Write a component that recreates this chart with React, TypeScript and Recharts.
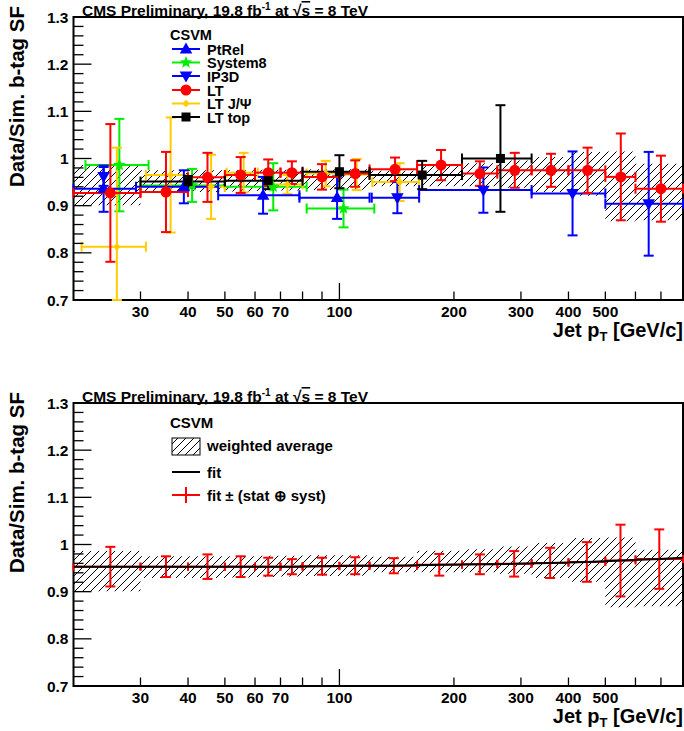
import React from 'react';
import { ComposedChart, Scatter, ErrorBar, XAxis, YAxis, Area, Line, ReferenceArea } from 'recharts';

const FONT = '"Liberation Sans", Arial, Helvetica, sans-serif';

// ---------- axes ----------
const X_TICKS = [30, 40, 50, 60, 70, 80, 90, 100, 200, 300, 400, 500, 600, 700];
const X_LABELS = [30, 40, 50, 60, 70, 100, 200, 300, 400, 500];
const Y_TICKS = [0.7, 0.72, 0.74, 0.76, 0.78, 0.8, 0.82, 0.84, 0.86, 0.88, 0.9, 0.92, 0.94, 0.96, 0.98, 1, 1.02, 1.04, 1.06, 1.08, 1.1, 1.12, 1.14, 1.16, 1.18, 1.2, 1.22, 1.24, 1.26, 1.28, 1.3];
const Y_MAJOR = [0.7, 0.8, 0.9, 1, 1.1, 1.2, 1.3];
const Y_LABELS = ['0.7', '0.8', '0.9', '1', '1.1', '1.2', '1.3'];

// ---------- weighted average band (bins) ----------
const binEdges = [20, 30, 40, 50, 60, 70, 80, 100, 120, 160, 210, 260, 320, 400, 500, 600, 800];
const bandLow = [0.901, 0.929, 0.929, 0.930, 0.931, 0.932, 0.933, 0.934, 0.941, 0.941, 0.941, 0.938, 0.929, 0.921, 0.867, 0.869];
const bandHigh = [0.986, 0.975, 0.975, 0.975, 0.976, 0.976, 0.977, 0.977, 0.974, 0.987, 0.990, 0.996, 1.003, 1.014, 1.015, 0.989];

// ---------- LT (red) ----------
const ltPt = [25, 35, 45, 55, 65, 75, 90, 110, 140, 185, 234, 289, 360, 449, 549, 700];
const ltSF = [0.927, 0.929, 0.960, 0.965, 0.970, 0.970, 0.961, 0.968, 0.977, 0.986, 0.968, 0.975, 0.975, 0.975, 0.961, 0.936];
const ltErr = [0.146, 0.085, 0.052, 0.038, 0.028, 0.024, 0.027, 0.028, 0.025, 0.032, 0.026, 0.037, 0.035, 0.048, 0.092, 0.070];

// ---------- PtRel (blue, up) ----------
const ptrelPt = [24, 39, 63, 98.6];
const ptrelLo = [20, 29.2, 48, 78.5];
const ptrelHi = [29.2, 48, 78.5, 120];
const ptrelSF = [0.936, 0.940, 0.922, 0.917];
const ptrelErr = [0.049, 0.035, 0.039, 0.045];

// ---------- System8 (green) ----------
const s8Pt = [26.4, 41, 67, 102.5];
const s8Lo = [21.5, 30, 50, 82];
const s8Hi = [31.5, 50, 82, 123.5];
const s8SF = [0.986, 0.943, 0.940, 0.894];
const s8Err = [0.098, 0.035, 0.050, 0.040];

// ---------- IP3D (blue, down) ----------
const ip3dPt = [24, 142, 239, 410, 650];
const ip3dLo = [24, 121.6, 162, 320, 500];
const ip3dHi = [24, 162, 320, 500, 800];
const ip3dSF = [0.962, 0.917, 0.933, 0.926, 0.904];
const ip3dErr = [0.020, 0.033, 0.048, 0.089, 0.110];

// ---------- LT J/psi (yellow) ----------
const jpsiPt = [26, 36, 46, 56, 73, 92, 111, 144];
const jpsiLo = [21, 31, 40, 50.5, 67, 82, 100, 122];
const jpsiHi = [31, 40, 50, 61, 80, 100, 120, 162];
const jpsiSF = [0.813, 0.965, 0.940, 0.970, 0.945, 0.968, 0.966, 0.950];
const jpsiErr = [0.210, 0.122, 0.068, 0.042, 0.020, 0.027, 0.033, 0.040];
// lower error as visible inside the frame (first bar runs out of the frame at 0.7)
const jpsiErrLow = [0.113, 0.122, 0.068, 0.042, 0.020, 0.027, 0.033, 0.040];

// ---------- LT top (black) ----------
const topPt = [40, 65, 100, 165, 265];
const topLo = [30, 50, 80, 120, 210];
const topHi = [50, 80, 120, 210, 320];
const topSF = [0.951, 0.953, 0.972, 0.965, 1.000];
const topErr = [0.012, 0.018, 0.035, 0.030, 0.113];

// ---------- fit (bottom) ----------
const fitCenters = [25, 35, 45, 55, 65, 75, 90, 110, 139, 183, 234, 288, 358, 447, 548, 693];
const fitVals = [0.953, 0.953, 0.953, 0.953, 0.953, 0.953, 0.954, 0.955, 0.955, 0.957, 0.958, 0.959, 0.961, 0.963, 0.966, 0.969];
const fitErr = [0.042, 0.022, 0.026, 0.022, 0.019, 0.016, 0.018, 0.018, 0.016, 0.023, 0.021, 0.027, 0.032, 0.042, 0.076, 0.063];
const fitEnds = [[20, 0.953], [800, 0.972]];

// ---------- build data ----------
const bandData = binEdges.map((e, i) => {
  const k = Math.min(i, bandLow.length - 1);
  return { x: e, band: [bandLow[k], bandHigh[k]] };
});
const mk = (pt: number[], lo: number[], hi: number[], sf: number[], err: number[], errLow?: number[]) =>
  pt.map((x, i) => ({ x, y: sf[i], ex: [x - lo[i], hi[i] - x], ey: [errLow ? errLow[i] : err[i], err[i]] }));

const ltData = mk(ltPt, binEdges.slice(0, 16), binEdges.slice(1), ltSF, ltErr);
const ptrelData = mk(ptrelPt, ptrelLo, ptrelHi, ptrelSF, ptrelErr);
const s8Data = mk(s8Pt, s8Lo, s8Hi, s8SF, s8Err);
const ip3dData = mk(ip3dPt, ip3dLo, ip3dHi, ip3dSF, ip3dErr);
const jpsiData = mk(jpsiPt, jpsiLo, jpsiHi, jpsiSF, jpsiErr, jpsiErrLow);
const topData = mk(topPt, topLo, topHi, topSF, topErr);
const fitErrData = mk(fitCenters, binEdges.slice(0, 16), binEdges.slice(1), fitVals, fitErr);
const fitLine = [
  { x: fitEnds[0][0], y: fitEnds[0][1] },
  ...fitCenters.map((x, i) => ({ x, y: fitVals[i] })),
  { x: fitEnds[1][0], y: fitEnds[1][1] },
];

// ---------- colours ----------
const BLUE = '#0000ff';
const GREEN = '#00ee00';
const RED = '#ff0000';
const YELLOW = '#ffcc00';
const BLACK = '#000000';

// ---------- marker shapes ----------
const triUp = (cx: number, cy: number, c: string, s = 6.3) => (
  <path d={`M${cx},${cy - s * 1.05} L${cx + s},${cy + s * 0.7} L${cx - s},${cy + s * 0.7} Z`} fill={c} />
);
const triDown = (cx: number, cy: number, c: string, s = 6.3) => (
  <path d={`M${cx},${cy + s * 1.05} L${cx + s},${cy - s * 0.7} L${cx - s},${cy - s * 0.7} Z`} fill={c} />
);
const starPath = (cx: number, cy: number, R: number, r: number) => {
  let d = '';
  for (let k = 0; k < 10; k++) {
    const ang = -Math.PI / 2 + (k * Math.PI) / 5;
    const rr = k % 2 === 0 ? R : r;
    d += `${k === 0 ? 'M' : 'L'}${cx + rr * Math.cos(ang)},${cy + rr * Math.sin(ang)} `;
  }
  return d + 'Z';
};
const star = (cx: number, cy: number, c: string) => <path d={starPath(cx, cy, 6.5, 2.8)} fill={c} />;
const circ = (cx: number, cy: number, c: string) => <circle cx={cx} cy={cy} r={5.5} fill={c} />;
const sq = (cx: number, cy: number, c: string) => <rect x={cx - 4.5} y={cy - 4.5} width={9} height={9} fill={c} />;
const diam = (cx: number, cy: number, c: string) => (
  <path d={`M${cx},${cy - 3.8} L${cx + 3.8},${cy} L${cx},${cy + 3.8} L${cx - 3.8},${cy} Z`} fill={c} />
);

// ---------- ticks ----------
const XTick = (p: any) => {
  const { x, y, payload } = p;
  const v = payload.value;
  const len = v === 100 ? 17 : 8.5;
  return (
    <g>
      <line x1={x} x2={x} y1={y} y2={y - len} stroke="#000" strokeWidth={1.3} />
      {X_LABELS.includes(v) && (
        <text x={x} y={y + 17} textAnchor="middle" fontFamily={FONT} fontWeight="bold" fontSize={15.5} fill="#000">
          {String(v)}
        </text>
      )}
    </g>
  );
};
const YTick = (p: any) => {
  const { x, y, payload } = p;
  const v = payload.value;
  const idx = Y_MAJOR.findIndex((m) => Math.abs(m - v) < 1e-6);
  const major = idx >= 0;
  return (
    <g>
      <line x1={x} x2={x + (major ? 18 : 10)} y1={y} y2={y} stroke="#000" strokeWidth={1.3} />
      {major && (
        <text x={x - 5} y={y + 5.5} textAnchor="end" fontFamily={FONT} fontWeight="bold" fontSize={15.5} fill="#000">
          {Y_LABELS[idx]}
        </text>
      )}
    </g>
  );
};

const axes = (h: number) => [
  <XAxis key="xa" xAxisId={0} dataKey="x" type="number" scale="log" domain={[20, 800]} allowDataOverflow ticks={X_TICKS}
    interval={0} tick={XTick} tickLine={false} axisLine={false} tickSize={0} tickMargin={0} height={h} />,
  <YAxis key="ya" yAxisId={0} dataKey="y" type="number" domain={[0.7, 1.3]} allowDataOverflow ticks={Y_TICKS}
    interval={0} tick={YTick} tickLine={false} axisLine={false} tickSize={0} tickMargin={0} width={60} />,
];

const series = (data: any[], color: string, shape: (cx: number, cy: number, c: string) => React.ReactElement, name: string) => (
  <Scatter key={name} name={name} data={data} dataKey="y" isAnimationActive={false}
    shape={(p: any) => shape(p.cx, p.cy, color)}>
    <ErrorBar dataKey="ex" direction="x" stroke={color} strokeWidth={2} width={5} />
    <ErrorBar dataKey="ey" direction="y" stroke={color} strokeWidth={2} width={5} />
  </Scatter>
);

const Title = ({ y0 }: { y0: number }) => (
  <g fontFamily={FONT} fontWeight="bold" fill="#000">
    <text x={82} y={y0 + 16} fontSize={15.5}>
      CMS Preliminary, 19.8 fb<tspan dy={-6} fontSize={10}>-1</tspan>
      <tspan dy={6}> at </tspan>√<tspan style={{ textDecoration: 'overline' }}>s</tspan> = 8 TeV
    </text>
    <text transform={`translate(24,${y0 + 6}) rotate(-90)`} textAnchor="end" fontSize={20.5}>Data/Sim. b-tag SF</text>
    <text x={683} y={y0 + 337} textAnchor="end" fontSize={20}>
      Jet p<tspan dy={4} fontSize={13}>T</tspan><tspan dy={-4}> [GeV/c]</tspan>
    </text>
  </g>
);

const legendRows = [
  { label: 'PtRel', color: BLUE, m: triUp, y: 49 },
  { label: 'System8', color: GREEN, m: star, y: 62.5 },
  { label: 'IP3D', color: BLUE, m: triDown, y: 76 },
  { label: 'LT', color: RED, m: circ, y: 90 },
  { label: 'LT J/Ψ', color: YELLOW, m: diam, y: 103.5 },
  { label: 'LT top', color: BLACK, m: sq, y: 117 },
];

export default function App() {
  return (
    <div style={{ position: 'absolute', left: 0, top: 0, width: 684, height: 731, background: '#fff' }}>
      <div style={{ position: 'absolute', left: 0, top: 0 }}>
        <ComposedChart width={684} height={386} data={bandData} margin={{ top: 17, right: 1, left: 13.5, bottom: 56 }}>
          {axes(30)}
          <Area dataKey="band" type="stepAfter" stroke="none" fill="url(#hatch)" fillOpacity={1} isAnimationActive={false} dot={false} activeDot={false} />
          {series(s8Data, GREEN, star, 's8')}
          {series(jpsiData, YELLOW, diam, 'jpsi')}
          {series(ptrelData, BLUE, triUp, 'ptrel')}
          {series(ip3dData, BLUE, triDown, 'ip3d')}
          {series(ltData, RED, circ, 'lt')}
          {series(topData, BLACK, sq, 'top')}
          <ReferenceArea x1={20} x2={800} y1={0.7} y2={1.3} fill="none" stroke="#000" strokeWidth={2} ifOverflow="visible" />
        </ComposedChart>
      </div>
      <div style={{ position: 'absolute', left: 0, top: 386 }}>
        <ComposedChart width={684} height={345} data={bandData} margin={{ top: 17, right: 1, left: 13.5, bottom: 15 }}>
          {axes(30)}
          <Area dataKey="band" type="stepAfter" stroke="none" fill="url(#hatch)" fillOpacity={1} isAnimationActive={false} dot={false} activeDot={false} />
          <Scatter name="fiterr" data={fitErrData} dataKey="y" isAnimationActive={false} shape={() => <g />}>
            <ErrorBar dataKey="ex" direction="x" stroke={RED} strokeWidth={2} width={4} />
            <ErrorBar dataKey="ey" direction="y" stroke={RED} strokeWidth={2} width={5} />
          </Scatter>
          <Line data={fitLine} dataKey="y" type="linear" stroke="#000" strokeWidth={2} dot={false} isAnimationActive={false} />
          <ReferenceArea x1={20} x2={800} y1={0.7} y2={1.3} fill="none" stroke="#000" strokeWidth={2} ifOverflow="visible" />
        </ComposedChart>
      </div>
      <svg width={684} height={731} style={{ position: 'absolute', left: 0, top: 0, pointerEvents: 'none' }}>
        <defs>
          <pattern id="hatch" patternUnits="userSpaceOnUse" width={8} height={8}>
            <path d="M-2,2 L2,-2 M0,8 L8,0 M6,10 L10,6" stroke="#000" strokeWidth={1} />
          </pattern>
        </defs>
        <Title y0={0} />
        <Title y0={386} />
        {/* top legend */}
        <g fontFamily={FONT} fontWeight="bold" fontSize={14.5} fill="#000">
          <text x={170} y={40}>CSVM</text>
          {legendRows.map((r) => (
            <g key={r.label}>
              <line x1={172} x2={200} y1={r.y} y2={r.y} stroke={r.color} strokeWidth={2} />
              {r.m(186, r.y, r.color)}
              <text x={207} y={r.y + 5.5}>{r.label}</text>
            </g>
          ))}
        </g>
        {/* bottom legend */}
        <g fontFamily={FONT} fontWeight="bold" fontSize={15} fill="#000">
          <text x={170} y={428}>CSVM</text>
          <rect x={172} y={438} width={28} height={17} fill="url(#hatch)" stroke="#000" strokeWidth={1} />
          <text x={207} y={451}>weighted average</text>
          <line x1={172} x2={200} y1={472} y2={472} stroke="#000" strokeWidth={2} />
          <text x={207} y={478}>fit</text>
          <line x1={172} x2={200} y1={495} y2={495} stroke={RED} strokeWidth={2} />
          <line x1={186} x2={186} y1={487} y2={503} stroke={RED} strokeWidth={2} />
          <text x={207} y={501}>fit ± (stat ⊕ syst)</text>
        </g>
      </svg>
    </div>
  );
}
